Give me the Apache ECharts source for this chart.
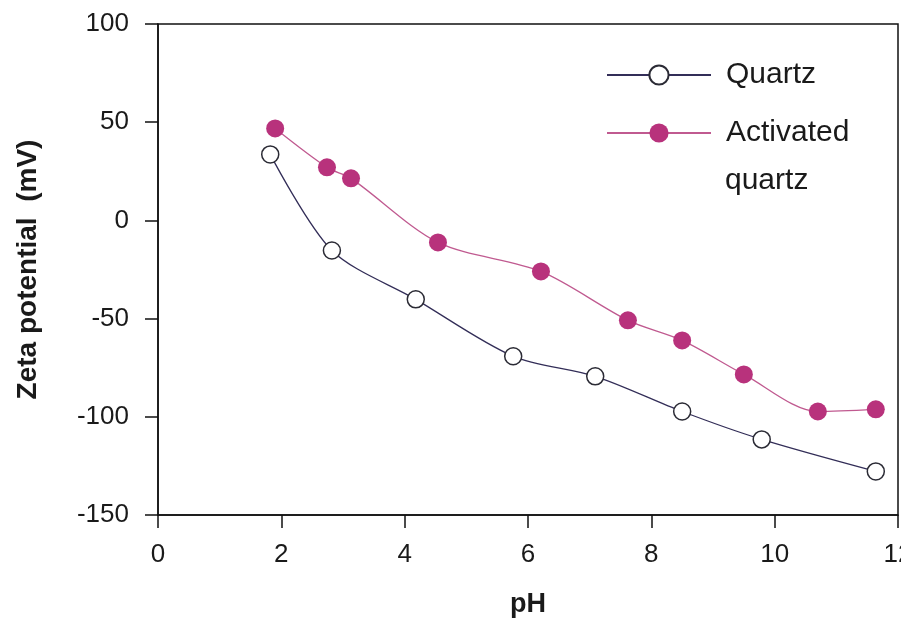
<!DOCTYPE html>
<html>
<head>
<meta charset="utf-8">
<script src="https://cdn.jsdelivr.net/npm/echarts@6/dist/echarts.min.js"></script>
<style>
  html, body { margin: 0; padding: 0; background: #fff; }
  #chart { width: 901px; height: 619px; }
</style>
</head>
<body>
<div id="chart"></div>
<script>
// Zeta potential vs pH
const quartzPH   = [1.82, 2.82, 4.18, 5.76, 7.09, 8.50, 9.79, 11.64];
const quartzZeta = [33.6, -15.3, -40.2, -69.2, -79.4, -97.3, -111.5, -127.8];

const activatedPH   = [1.90, 2.74, 3.13, 4.54, 6.21, 7.62, 8.50, 9.50, 10.70, 11.64];
const activatedZeta = [46.8, 27.0, 21.4, -11.2, -26.0, -50.9, -61.1, -78.4, -97.3, -96.2];

const xTicks = [0, 2, 4, 6, 8, 10, 12];
const yTicks = [-150, -100, -50, 0, 50, 100];

const zip = (xs, ys) => xs.map((x, i) => [x, ys[i]]);

const font = 'Liberation Sans, Arial, sans-serif';
const axisCommon = {
  axisLine: { show: true, onZero: false, lineStyle: { color: '#111', width: 1.5 } },
  axisTick: { show: true, inside: false, length: 13, lineStyle: { color: '#111', width: 1.5 } },
  splitLine: { show: false },
  axisLabel: { color: '#1a1a1a', fontSize: 26, fontFamily: font }
};

const chart = echarts.init(document.getElementById('chart'), null, { renderer: 'canvas' });
chart.setOption({
  backgroundColor: '#ffffff',
  animation: false,
  grid: {
    left: 158, right: 3, top: 24, bottom: 104,
    outerBoundsMode: 'none', containLabel: false,
    show: true, borderColor: '#111', borderWidth: 1.5, backgroundColor: 'transparent'
  },
  xAxis: Object.assign({}, axisCommon, {
    type: 'value', min: xTicks[0], max: xTicks[xTicks.length - 1], interval: 2,
    name: 'pH', nameLocation: 'middle', nameGap: 76,
    nameTextStyle: { fontSize: 27, fontWeight: 'bold', color: '#1a1a1a', fontFamily: font },
    axisLabel: Object.assign({}, axisCommon.axisLabel, { margin: 27 })
  }),
  yAxis: Object.assign({}, axisCommon, {
    type: 'value', min: yTicks[0], max: yTicks[yTicks.length - 1], interval: 50,
    name: 'Zeta potential  (mV)', nameLocation: 'middle', nameGap: 116,
    nameTextStyle: { fontSize: 28, fontWeight: 'bold', color: '#1a1a1a', fontFamily: font },
    axisLabel: Object.assign({}, axisCommon.axisLabel, { margin: 29 })
  }),
  legend: [
    {
      data: ['Quartz'], orient: 'vertical', left: 606, top: 60, padding: 0,
      itemWidth: 104, itemHeight: 24, itemGap: 0,
      textStyle: { fontSize: 30, color: '#1a1a1a', fontFamily: font, padding: [0, 0, 0, 10] }
    },
    {
      data: [{ name: 'Activated quartz' }], orient: 'vertical', left: 606, top: 118, padding: 0,
      itemWidth: 104, itemHeight: 24, itemGap: 0,
      formatter: () => 'Activated',
      textStyle: { fontSize: 30, color: '#1a1a1a', fontFamily: font, padding: [0, 0, 0, 10] }
    }
  ],
  graphic: [
    { type: 'text', left: 725, top: 166, style: { text: 'quartz', font: '30px ' + font, fill: '#1a1a1a' } }
  ],
  series: [
    {
      name: 'Quartz', type: 'line', smooth: 0.3,
      data: zip(quartzPH, quartzZeta),
      symbol: 'circle', symbolSize: 17,
      lineStyle: { color: '#332e58', width: 1.3 },
      itemStyle: { color: '#ffffff', borderColor: '#2b2b35', borderWidth: 1.5 }
    },
    {
      name: 'Activated quartz', type: 'line', smooth: 0.3,
      data: zip(activatedPH, activatedZeta),
      symbol: 'circle', symbolSize: 18,
      lineStyle: { color: '#c05a90', width: 1.3 },
      itemStyle: { color: '#b8327c', borderColor: '#b8327c', borderWidth: 0 }
    }
  ]
});
</script>
</body>
</html>
